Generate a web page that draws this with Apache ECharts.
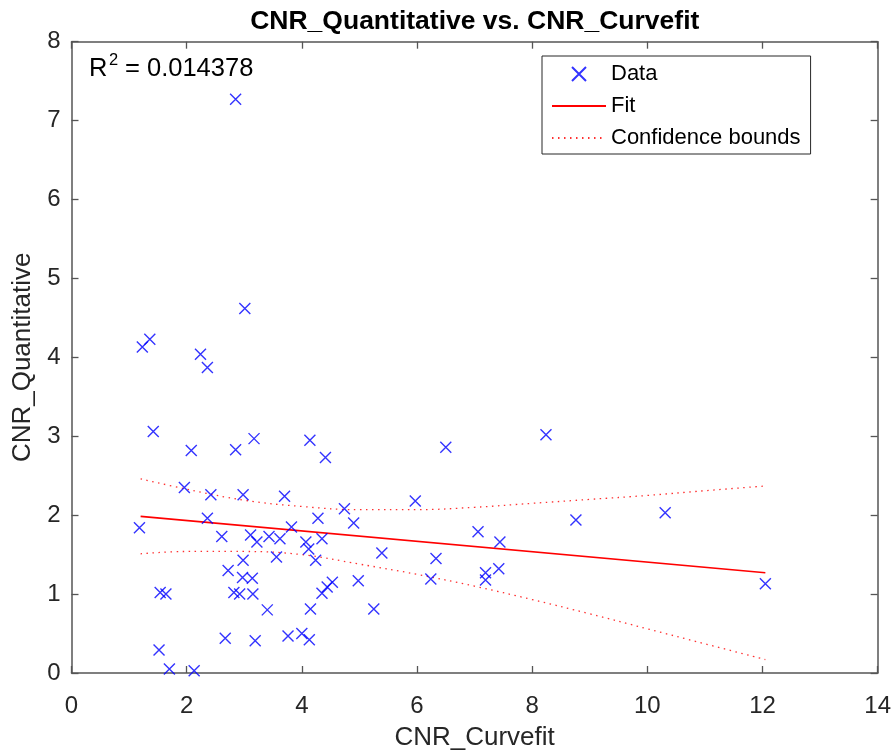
<!DOCTYPE html>
<html>
<head>
<meta charset="utf-8">
<script src="https://cdn.jsdelivr.net/npm/echarts@6/dist/echarts.min.js"></script>
<style>
html,body{margin:0;padding:0;background:#fff;}
#chart{width:894px;height:756px;}
</style>
</head>
<body>
<div id="chart"></div>
<script>
// Scatter data (CNR_Curvefit, CNR_Quantitative)
const xValues = [3.01,1.23,1.36,2.24,2.36,1.42,2.08,2.85,3.17,4.14,4.41,6.50,2.85,
  1.96,2.42,2.98,2.36,1.18,2.61,3.11,3.22,3.43,2.98,2.72,2.97,3.14,1.54,1.64,2.82,2.92,3.15,3.40,2.67,3.19,1.52,1.70,2.13,3.56,
  3.70,5.97,4.74,4.28,4.90,3.82,3.62,4.07,4.35,4.12,4.24,5.39,6.33,6.24,4.98,4.53,4.44,4.35,4.15,5.25,3.76,4.00,4.13,
  8.24,8.76,10.31,7.06,7.44,7.42,7.19,7.19,12.05];
const yValues = [4.62,4.13,4.23,4.04,3.87,3.06,2.82,2.83,2.97,2.95,2.73,2.86,7.27,
  2.35,2.26,2.26,1.96,1.84,1.73,1.75,1.66,1.73,1.43,1.30,1.21,1.20,1.02,1.00,1.02,1.00,1.00,0.80,0.44,0.41,0.29,0.05,0.03,1.47,
  2.24,2.18,2.08,1.96,1.90,1.85,1.70,1.66,1.70,1.57,1.43,1.52,1.45,1.19,1.17,1.15,1.09,1.01,0.81,0.81,0.47,0.50,0.42,
  3.02,1.94,2.03,1.79,1.66,1.32,1.27,1.18,1.13];
// Fit line end points
const fitX = [1.2, 12.05];
const fitY = [1.985, 1.27];
// Confidence bounds read along x
const boundX = [1.2, 2, 3, 4, 5, 6, 7, 8, 9, 10, 11, 12.05];
const upperY = [2.46, 2.33, 2.19, 2.11, 2.07, 2.07, 2.10, 2.15, 2.20, 2.25, 2.31, 2.37];
const lowerY = [1.51, 1.54, 1.54, 1.50, 1.38, 1.25, 1.10, 0.93, 0.75, 0.56, 0.37, 0.17];
const r2Text = '0.014378';

const zip = (a, b) => a.map((v, i) => [v, b[i]]);
const crossPath = 'path://M0,0L10,10M10,0L0,10';
const axisColor = '#555555';
const textColor = '#262626';
const font = 'Liberation Sans, Arial, Helvetica, sans-serif';

const chart = echarts.init(document.getElementById('chart'), null, {renderer: 'canvas'});
const boundStyle = {color: '#ff3030', width: 1.3, type: [1.5, 4.5]};
const hiddenDot = {color: 'transparent', borderWidth: 0, borderColor: 'transparent'};

chart.setOption({
  animation: false,
  backgroundColor: '#ffffff',
  textStyle: {fontFamily: font},
  title: {
    text: 'CNR_Quantitative vs. CNR_Curvefit',
    left: 474.75,
    top: 8,
    padding: 0,
    textAlign: 'center',
    textStyle: {fontFamily: font, fontSize: 26.5, fontWeight: 'bold', color: '#000'}
  },
  grid: {left: 71.5, right: 16, top: 41.7, bottom: 79.5, containLabel: false},
  legend: {
    orient: 'vertical',
    left: 542,
    top: 56,
    padding: [7, 10, 5, 9],
    borderColor: '#262626',
    borderWidth: 1,
    backgroundColor: '#ffffff',
    itemWidth: 54,
    itemHeight: 14,
    itemGap: 10,
    textStyle: {fontFamily: font, fontSize: 22, color: '#000'},
    data: [
      {name: 'Data', icon: crossPath},
      {name: 'Fit', itemStyle: hiddenDot},
      {name: 'Confidence bounds', itemStyle: hiddenDot}
    ]
  },
  xAxis: [{
    type: 'value', min: 0, max: 14, interval: 2, position: 'bottom',
    name: 'CNR_Curvefit', nameLocation: 'middle', nameGap: 52,
    nameTextStyle: {fontFamily: font, fontSize: 26, color: textColor},
    axisLine: {show: true, onZero: false, lineStyle: {color: axisColor, width: 1.5}},
    axisTick: {show: true, inside: true, length: 7, lineStyle: {color: axisColor, width: 1.3}},
    axisLabel: {fontFamily: font, fontSize: 24, color: textColor, margin: 21},
    splitLine: {show: false}
  }, {
    type: 'value', min: 0, max: 14, interval: 2, position: 'top',
    axisLine: {show: true, onZero: false, lineStyle: {color: axisColor, width: 1.5}},
    axisTick: {show: true, inside: true, length: 7, lineStyle: {color: axisColor, width: 1.3}},
    axisLabel: {show: false},
    splitLine: {show: false}
  }],
  yAxis: [{
    type: 'value', min: 0, max: 8, interval: 1, position: 'left',
    name: 'CNR_Quantitative', nameLocation: 'middle', nameGap: 32,
    nameTextStyle: {fontFamily: font, fontSize: 26, color: textColor},
    axisLine: {show: true, onZero: false, lineStyle: {color: axisColor, width: 1.5}},
    axisTick: {show: true, inside: true, length: 7, lineStyle: {color: axisColor, width: 1.3}},
    axisLabel: {fontFamily: font, fontSize: 24, color: textColor, margin: 11},
    splitLine: {show: false}
  }, {
    type: 'value', min: 0, max: 8, interval: 1, position: 'right',
    axisLine: {show: true, onZero: false, lineStyle: {color: axisColor, width: 1.5}},
    axisTick: {show: true, inside: true, length: 7, lineStyle: {color: axisColor, width: 1.3}},
    axisLabel: {show: false},
    splitLine: {show: false}
  }],
  graphic: [
    {type: 'text', left: 89, top: 56, style: {text: 'R', font: '25.5px ' + font, fill: '#000'}},
    {type: 'text', left: 109, top: 52, style: {text: '2', font: '16.5px ' + font, fill: '#000'}},
    {type: 'text', left: 125, top: 56, style: {text: '= ' + r2Text, font: '25.5px ' + font, fill: '#000'}}
  ],
  series: [
    {
      name: 'Data', type: 'scatter', xAxisIndex: 0, yAxisIndex: 0,
      data: zip(xValues, yValues),
      symbol: crossPath, symbolSize: 11,
      itemStyle: {color: 'none', borderColor: '#0000ff', borderWidth: 1.4},
      emphasis: {disabled: true}, z: 3
    },
    {
      name: 'Fit', type: 'line', data: zip(fitX, fitY),
      symbol: 'none', color: '#ff0000',
      lineStyle: {color: '#ff0000', width: 1.6},
      emphasis: {disabled: true}, z: 2
    },
    {
      name: 'Confidence bounds', type: 'line', data: zip(boundX, upperY),
      symbol: 'none', smooth: 0.4, color: '#ff3030',
      lineStyle: boundStyle, emphasis: {disabled: true}, z: 2
    },
    {
      name: 'Confidence bounds', type: 'line', data: zip(boundX, lowerY),
      symbol: 'none', smooth: 0.4, color: '#ff3030',
      lineStyle: boundStyle, emphasis: {disabled: true}, z: 2
    }
  ]
});
</script>
</body>
</html>
